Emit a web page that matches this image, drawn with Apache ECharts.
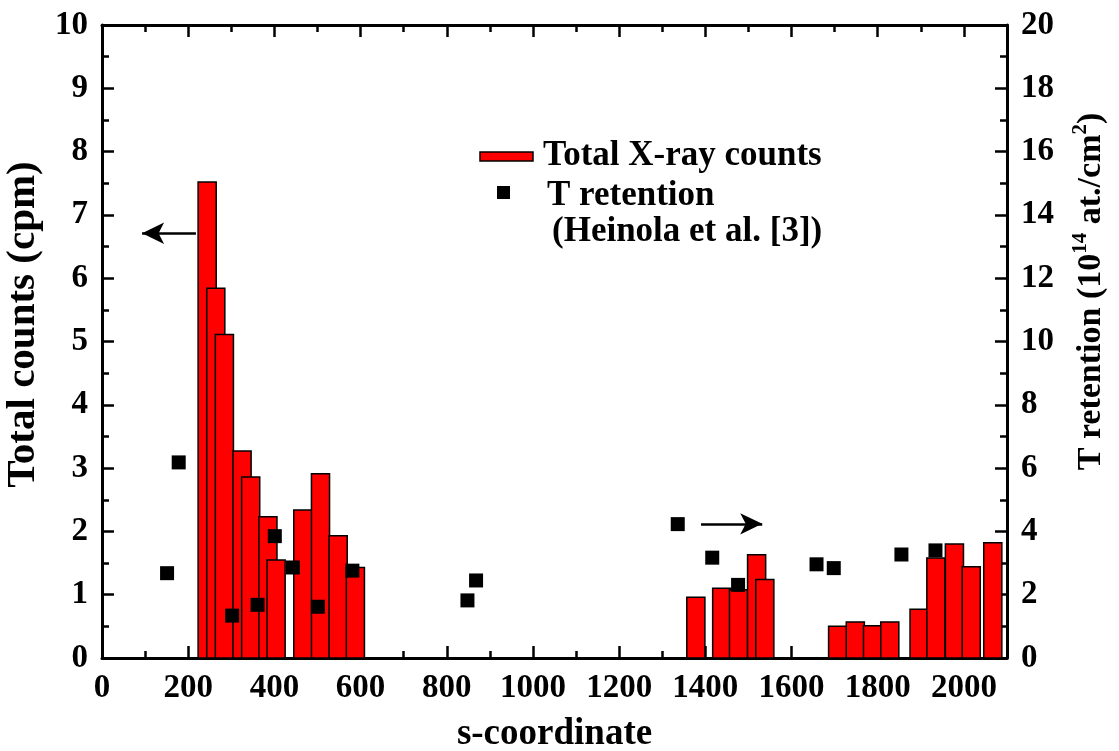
<!DOCTYPE html>
<html>
<head>
<meta charset="utf-8">
<title>X-ray counts vs T retention</title>
<script src="https://cdn.jsdelivr.net/npm/echarts@6/dist/echarts.min.js"></script>
<style>
  html, body { margin: 0; padding: 0; background: #fff; }
  #chart { width: 1119px; height: 751px; }
</style>
</head>
<body>
<div id="chart"></div>
<script>
// 柱子：中心位置 (s-coordinate) 和总计数 (cpm)
const barCenters = [244, 264, 284, 325, 345, 385, 404, 466, 507, 548, 588,
  1378, 1438, 1477, 1519, 1538, 1707, 1748, 1788, 1828, 1896, 1935, 1978, 2017, 2067];
const barCounts = [7.52, 5.84, 5.11, 3.27, 2.86, 2.23, 1.55, 2.34, 2.91, 1.93, 1.43,
  0.96, 1.10, 1.08, 1.63, 1.24, 0.50, 0.57, 0.51, 0.57, 0.77, 1.58, 1.80, 1.44, 1.82];
const BAR_WIDTH = 42; // 柱宽 (s-coordinate 单位)

// T retention 散点 (10^14 at./cm^2)
const tPos = [151, 178, 302, 361, 401, 443, 501, 581, 848, 868, 1336, 1416, 1476, 1658, 1698, 1855, 1934];
const tValues = [2.68, 6.18, 1.34, 1.68, 3.85, 2.86, 1.62, 2.76, 1.82, 2.45, 4.23, 3.17, 2.31, 2.96, 2.84, 3.27, 3.40];

// 刻度
const xTicks = { min: 0, max: 2100, interval: 200 };
const leftTicks = { min: 0, max: 10, interval: 1 };
const rightTicks = { min: 0, max: 20, interval: 2 };

const FONT = '"Liberation Serif", "Times New Roman", serif';

const chart = echarts.init(document.getElementById('chart'));

const labelStyle = { fontFamily: FONT, fontWeight: 'bold', fontSize: 33, color: '#000' };
const nameStyle = { fontFamily: FONT, fontWeight: 'bold', fontSize: 37, color: '#000' };
const lineStyle = { color: '#000', width: 3 };

function axisBase(extra) {
  return Object.assign({
    type: 'value',
    axisLine: { show: true, onZero: false, lineStyle: lineStyle },
    axisTick: { show: true, inside: true, length: 12, lineStyle: { color: '#000', width: 2.5 } },
    minorTick: { show: true, splitNumber: 2, length: 7, lineStyle: { color: '#000', width: 2.5 } },
    splitLine: { show: false },
    axisLabel: Object.assign({ margin: 14, formatter: v => String(v) }, labelStyle)
  }, extra);
}

const barData = barCenters.map((c, i) => [c, barCounts[i]]);
const tData = tPos.map((x, i) => [x, tValues[i]]);

const option = {
  animation: false,
  grid: { left: 102, right: 112, top: 25, bottom: 93, containLabel: false, outerBoundsMode: 'none' },
  xAxis: [
    axisBase(Object.assign({
      position: 'bottom',
      name: 's-coordinate',
      nameLocation: 'middle',
      nameGap: 58,
      nameTextStyle: nameStyle,
      axisLabel: Object.assign({ margin: 14, showMaxLabel: false, formatter: v => String(v) }, labelStyle)
    }, xTicks)),
    axisBase(Object.assign({
      position: 'top',
      axisLabel: { show: false }
    }, xTicks))
  ],
  yAxis: [
    axisBase(Object.assign({
      position: 'left',
      name: 'Total counts (cpm)',
      nameLocation: 'middle',
      nameRotate: 90,
      nameGap: 55,
      nameTextStyle: Object.assign({}, nameStyle, { fontSize: 41, padding: [0, 0, 0, 34] })
    }, leftTicks)),
    axisBase(Object.assign({
      position: 'right',
      name: 'T retention (10{sup|14} at./cm{sup|2})',
      nameLocation: 'middle',
      nameRotate: 90,
      nameGap: 63,
      nameTextStyle: Object.assign({}, nameStyle, {
        fontSize: 34,
        padding: [0, 0, 0, 100],
        rich: {
          sup: { fontFamily: FONT, fontWeight: 'bold', fontSize: 21, color: '#000', padding: [0, 0, 22, 0] }
        }
      })
    }, rightTicks))
  ],
  series: [
    {
      name: 'Total X-ray counts',
      type: 'custom',
      xAxisIndex: 0,
      yAxisIndex: 0,
      renderItem: function (params, api) {
        const c = api.value(0);
        const v = api.value(1);
        const p0 = api.coord([c - BAR_WIDTH / 2, v]);
        const p1 = api.coord([c + BAR_WIDTH / 2, 0]);
        return {
          type: 'rect',
          shape: { x: p0[0], y: p0[1], width: p1[0] - p0[0], height: p1[1] - p0[1] },
          style: { fill: '#ff0000', stroke: '#000', lineWidth: 1.5 }
        };
      },
      encode: { x: 0, y: 1 },
      data: barData,
      markLine: {
        silent: true,
        symbol: ['none', 'arrow'],
        symbolSize: [16, 22],
        label: { show: false },
        lineStyle: { color: '#000', width: 2.5, type: 'solid' },
        data: [
          [{ coord: [218, 6.71] }, { coord: [93, 6.71] }],
          [{ coord: [1390, 2.12] }, { coord: [1532, 2.12] }]
        ]
      }
    },
    {
      name: 'T retention',
      type: 'scatter',
      xAxisIndex: 0,
      yAxisIndex: 1,
      symbol: 'rect',
      symbolSize: 14,
      itemStyle: { color: '#000', opacity: 1 },
      data: tData,
      z: 5
    }
  ],
  graphic: [
    {
      type: 'rect',
      shape: { x: 480, y: 152, width: 53, height: 9 },
      style: { fill: '#ff0000', stroke: '#000', lineWidth: 1.5 }
    },
    {
      type: 'text',
      x: 543, y: 156,
      style: { text: 'Total X-ray counts', font: 'bold 35px ' + FONT, fill: '#000', verticalAlign: 'middle' }
    },
    {
      type: 'rect',
      shape: { x: 497, y: 186, width: 13, height: 13 },
      style: { fill: '#000' }
    },
    {
      type: 'text',
      x: 547, y: 196,
      style: { text: 'T retention', font: 'bold 35px ' + FONT, fill: '#000', verticalAlign: 'middle' }
    },
    {
      type: 'text',
      x: 552, y: 232,
      style: { text: '(Heinola et al. [3])', font: 'bold 35px ' + FONT, fill: '#000', verticalAlign: 'middle' }
    }
  ]
};

chart.setOption(option);
window.addEventListener('resize', chart.resize);
</script>
</body>
</html>
